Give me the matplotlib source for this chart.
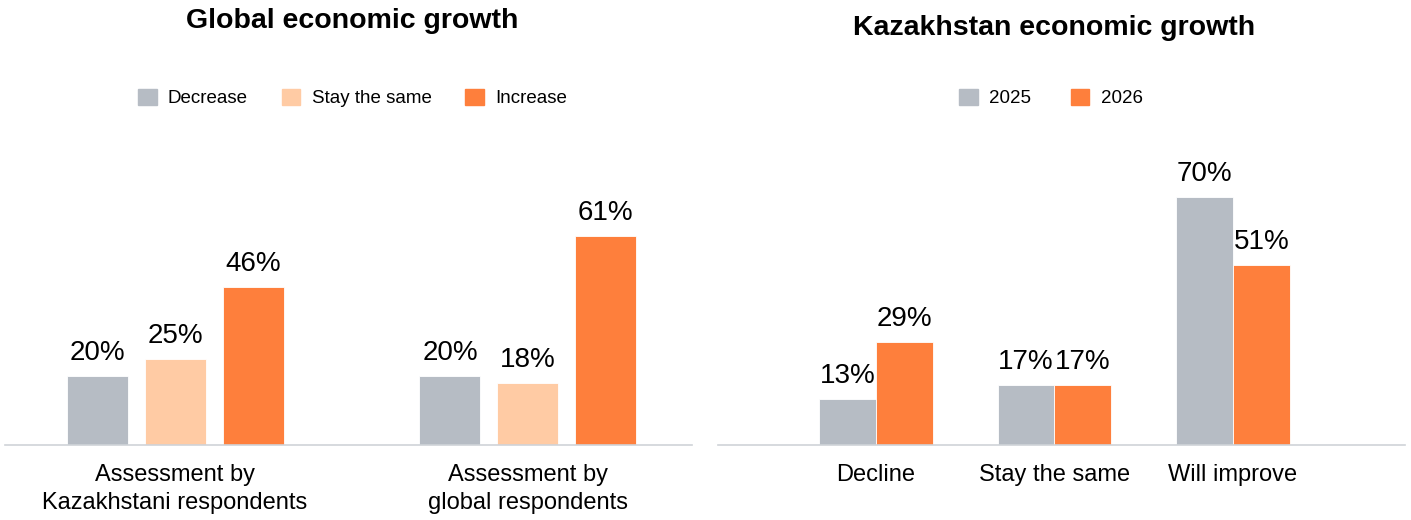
import numpy as np
import matplotlib
matplotlib.use("Agg")
import matplotlib.pyplot as plt
from matplotlib.patches import Patch

plt.rcParams['font.family'] = ['Liberation Sans', 'DejaVu Sans']

# left chart data
global_groups = ["Assessment by\nKazakhstani respondents", "Assessment by\nglobal respondents"]
global_series = ["Decrease", "Stay the same", "Increase"]
decrease = [20, 20]
stay_same = [25, 18]
increase = [46, 61]

# right chart data
kz_groups = ["Decline", "Stay the same", "Will improve"]
kz_series = ["2025", "2026"]
kz_2025 = [13, 17, 70]
kz_2026 = [29, 17, 51]

GRAY = "#B6BCC4"
PEACH = "#FFCBA4"
ORANGE = "#FE7F3C"
AXIS = "#CFD3D8"

fig = plt.figure(figsize=(14.11, 5.2), dpi=100)

def label_bars(ax, bars, vals):
    for b, v in zip(bars, vals):
        ax.annotate(f"{v}%", (b.get_x() + b.get_width() / 2, b.get_height()),
                    xytext=(0, 11.5), textcoords="offset points",
                    ha="center", va="baseline", fontsize=20)

def style(ax):
    for s in ["top", "left", "right"]:
        ax.spines[s].set_visible(False)
    ax.spines["bottom"].set_color(AXIS)
    ax.spines["bottom"].set_linewidth(1.2)
    ax.set_yticks([])
    ax.tick_params(axis="x", length=0, pad=14, labelsize=17)

# ---- left: global economic growth
ax1 = fig.add_axes([5 / 1411, 75 / 520, 687 / 1411, 295 / 520])
x = np.arange(len(global_groups))
w = 0.173
off = 0.221
cols = [GRAY, PEACH, ORANGE]
for i, vals in enumerate([decrease, stay_same, increase]):
    bars = ax1.bar(x + (i - 1) * off, vals, w, color=cols[i], edgecolor="white", linewidth=0.6)
    label_bars(ax1, bars, vals)
ax1.set_xlim(-0.482, 1.465)
ax1.set_ylim(0, 86)
ax1.set_xticks(x)
ax1.set_xticklabels(global_groups, linespacing=1.35)
style(ax1)

handles = [Patch(color=c) for c in cols]
fig.legend(handles, global_series, loc="center", bbox_to_anchor=(352.5 / 1411, 1 - 98 / 520),
           ncol=3, frameon=False, fontsize=13.5, handlelength=1.0, handleheight=1.0,
           handletextpad=0.6, columnspacing=1.8)
fig.text(352 / 1411, 1 - 21 / 520, "Global economic growth", ha="center", va="center",
         fontsize=20.5, fontweight="bold")

# ---- right: Kazakhstan economic growth
ax2 = fig.add_axes([718 / 1411, 75 / 520, 687 / 1411, 295 / 520])
x2 = np.arange(len(kz_groups))
w2 = 0.319
b1 = ax2.bar(x2 - w2 / 2, kz_2025, w2, color=GRAY, edgecolor="white", linewidth=0.6)
b2 = ax2.bar(x2 + w2 / 2, kz_2026, w2, color=ORANGE, edgecolor="white", linewidth=0.6)
label_bars(ax2, b1, kz_2025)
label_bars(ax2, b2, kz_2026)
ax2.set_xlim(-0.885, 2.964)
ax2.set_ylim(0, 83.4)
ax2.set_xticks(x2)
ax2.set_xticklabels(kz_groups)
style(ax2)

fig.legend([Patch(color=GRAY), Patch(color=ORANGE)], kz_series, loc="center",
           bbox_to_anchor=(1051 / 1411, 1 - 98 / 520), ncol=2, frameon=False, fontsize=13.5,
           handlelength=1.0, handleheight=1.0, handletextpad=0.6, columnspacing=2.1)
fig.text(1054 / 1411, 1 - 28 / 520, "Kazakhstan economic growth", ha="center", va="center",
         fontsize=20.5, fontweight="bold")

fig.savefig("out.png", dpi=100)
